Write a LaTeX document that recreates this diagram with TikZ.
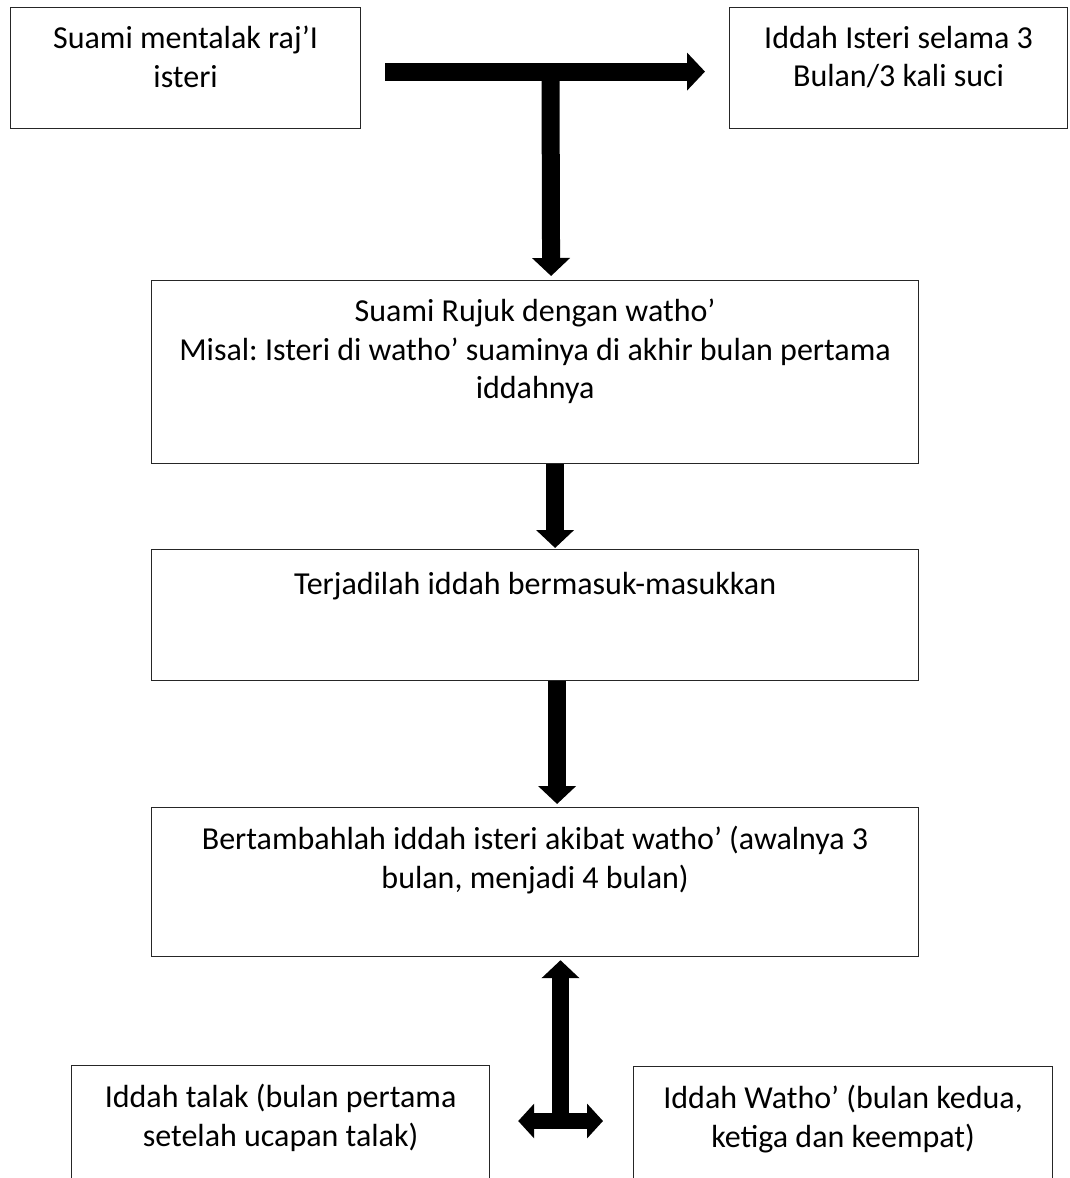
\documentclass[tikz,border=0pt]{standalone}
\usepackage{fontspec}
\setmainfont{Carlito}
\usetikzlibrary{arrows.meta}

\tikzset{
	flowbox/.style={draw=black!85, line width=1.2pt, anchor=north west, inner sep=0pt},
	boxtext/.style={anchor=north, align=center, inner sep=0pt, yshift=-19pt,
		font=\fontsize{32}{38.5}\selectfont\frenchspacing, execute at begin node={\rule{0pt}{26pt}}},
	fatarrow/.style={line width=18pt, -{Triangle[width=37pt,length=18pt]}},
	forkarrow/.style={line width=16pt, {Triangle[width=34pt,length=16pt]}-{Triangle[width=34pt,length=16pt]}}
}

\begin{document}
\begin{tikzpicture}[x=1pt,y=-1pt]
	\clip (0,0) rectangle (1069,1178);
	
	% boxes
	\node[flowbox, minimum width=350pt, minimum height=121pt,
		label={[boxtext]north:{Suami mentalak raj’I\\isteri}}] (talak) at (10,7) {};
	\node[flowbox, minimum width=338pt, minimum height=121pt,
		label={[boxtext]north:{Iddah Isteri selama 3\\Bulan/3 kali suci}}] (iddah) at (729,7) {};
	\node[flowbox, minimum width=767pt, minimum height=183pt,
		label={[boxtext]north:{Suami Rujuk dengan watho’\\Misal: Isteri di watho’ suaminya di akhir bulan pertama\\iddahnya}}] (rujuk) at (151,280) {};
	\node[flowbox, minimum width=767pt, minimum height=131pt,
		label={[boxtext]north:{Terjadilah iddah bermasuk-masukkan}}] (masuk) at (151,549) {};
	\node[flowbox, minimum width=767pt, minimum height=149pt,
		label={[boxtext]north:{Bertambahlah iddah isteri akibat watho’ (awalnya 3\\bulan, menjadi 4 bulan)}}] (tambah) at (151,807) {};
	\node[flowbox, minimum width=418pt, minimum height=200pt,
		label={[boxtext]north:{Iddah talak (bulan pertama\\setelah ucapan talak)}}] (talakpertama) at (71,1065) {};
	\node[flowbox, minimum width=419pt, minimum height=200pt,
		label={[boxtext]north:{Iddah Watho’ (bulan kedua,\\ketiga dan keempat)}}] (wathokedua) at (633,1066) {};
	
	% arrows
	\coordinate (split) at (550.5,71);
	\coordinate (fork) at (560.5,1121);
	
	\draw[fatarrow] ([xshift=24pt,yshift=-3.5pt]talak.east) -- ([xshift=-24pt,yshift=-3.5pt]iddah.west);
	\draw[fatarrow] (split) -- ([xshift=16pt,yshift=4pt]rujuk.north);
	\draw[fatarrow] ([xshift=20pt]rujuk.south) -- ([xshift=20pt,yshift=1pt]masuk.north);
	\draw[fatarrow] ([xshift=22pt]masuk.south) -- ([xshift=22pt,yshift=3pt]tambah.north);
	
	\draw[fatarrow, line width=17pt] ([yshift=-8pt]fork) -- ([yshift=-3pt]tambah.south -| fork);
	\draw[forkarrow] ([xshift=28pt]talakpertama.east |- fork) -- ([xshift=-30pt]wathokedua.west |- fork);
\end{tikzpicture}
\end{document}
